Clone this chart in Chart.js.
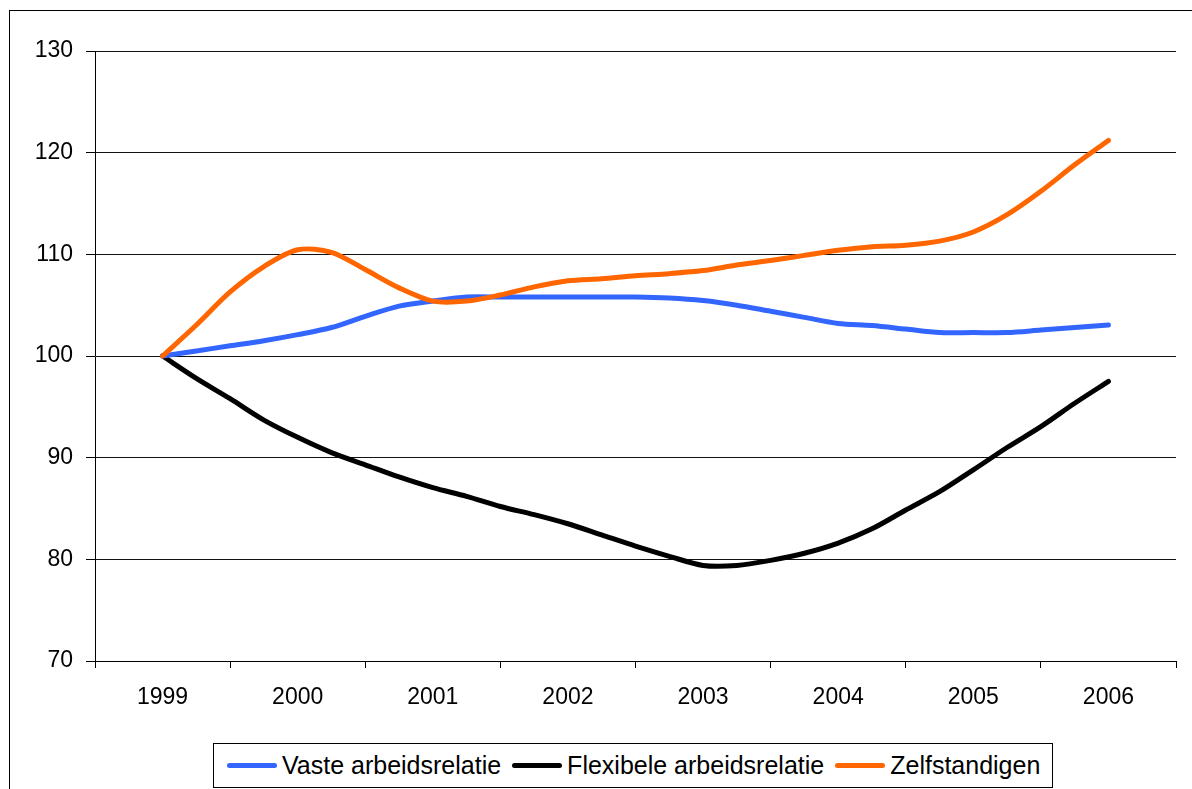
<!DOCTYPE html>
<html>
<head>
<meta charset="utf-8">
<script src="https://cdn.jsdelivr.net/npm/chart.js@4"></script>
<style>
html,body{margin:0;padding:0;background:#fff;overflow:hidden;}
#wrap{position:relative;width:1192px;height:789px;overflow:hidden;}
#frame{position:absolute;left:9px;top:10px;width:1220px;height:820px;border:1px solid #000;box-sizing:border-box;}
canvas{position:absolute;left:0;top:0;}
#legend{position:absolute;left:213px;top:743px;width:840px;height:45px;border:1px solid #000;box-sizing:border-box;display:flex;align-items:center;padding-left:13px;font-family:"Liberation Sans",Arial,sans-serif;font-size:25px;color:#000;background:#fff;}
.item{display:flex;align-items:center;margin-right:11px;white-space:nowrap;}
.sw{width:50px;height:5px;border-radius:3px;margin-right:5px;}
</style>
</head>
<body>
<div id="wrap">
  <div id="frame"></div>
  <canvas id="c" width="1192" height="789"></canvas>
  <div id="legend"></div>
</div>
<script>
// Quarterly x positions (fractional years)
const quarters = [1999, 1999.25, 1999.5, 1999.75,
                  2000, 2000.25, 2000.5, 2000.75,
                  2001, 2001.25, 2001.5, 2001.75,
                  2002, 2002.25, 2002.5, 2002.75,
                  2003, 2003.25, 2003.5, 2003.75,
                  2004, 2004.25, 2004.5, 2004.75,
                  2005, 2005.25, 2005.5, 2005.75,
                  2006];
const yearLabels = ['1999','2000','2001','2002','2003','2004','2005','2006'];
const yTickValues = [70, 80, 90, 100, 110, 120, 130];

const vaste = [100, 100.5, 101.0, 101.5,
               102.1, 102.8, 103.9, 104.9,
               105.4, 105.8, 105.8, 105.8,
               105.8, 105.8, 105.8, 105.7,
               105.45, 105.0, 104.4, 103.8,
               103.2, 103.0, 102.65, 102.3,
               102.3, 102.3, 102.55, 102.8,
               103.05];
const flexibel = [100, 97.8, 95.8, 93.7,
                  92.0, 90.5, 89.3, 88.1,
                  87.05, 86.2, 85.2, 84.4,
                  83.5, 82.4, 81.3, 80.3,
                  79.4, 79.4, 79.9, 80.6,
                  81.6, 83.0, 84.85, 86.65,
                  88.8, 91.0, 93.05, 95.35,
                  97.5];
const zelf = [100, 103.05, 106.3, 108.8,
              110.45, 110.2, 108.5, 106.7,
              105.4, 105.4, 106.0, 106.8,
              107.4, 107.6, 107.9, 108.1,
              108.4, 108.95, 109.4, 109.9,
              110.4, 110.75, 110.9, 111.3,
              112.2, 113.9, 116.2, 118.8,
              121.2];

const seriesNames = ['Vaste arbeidsrelatie', 'Flexibele arbeidsrelatie', 'Zelfstandigen'];
const seriesColors = ['#3366FF', '#000000', '#FF6600'];
const seriesValues = [vaste, flexibel, zelf];
const drawOrder = [1, 2, 0];

const FONT = '"Liberation Sans", Arial, sans-serif';
const pts = arr => arr.map((v, i) => ({x: quarters[i], y: v}));

const datasets = seriesValues.map((vals, i) => ({
  label: seriesNames[i],
  data: pts(vals),
  borderColor: seriesColors[i],
  backgroundColor: seriesColors[i],
  borderWidth: 5,
  pointRadius: 0,
  tension: 0.3,
  borderCapStyle: 'round',
  borderJoinStyle: 'round',
  fill: false,
  order: drawOrder[i]
}));

const firstYear = Number(yearLabels[0]);

new Chart(document.getElementById('c'), {
  type: 'line',
  data: { datasets },
  options: {
    responsive: false,
    animation: false,
    layout: { padding: { left: 0, top: 51, right: 13, bottom: 68 } },
    plugins: { legend: { display: false }, tooltip: { enabled: false } },
    scales: {
      x: {
        type: 'linear',
        min: firstYear - 0.5,
        max: firstYear + yearLabels.length - 0.5,
        afterBuildTicks: s => {
          const t = [];
          for (let i = 0; i <= yearLabels.length; i++) {
            t.push({ value: firstYear - 0.5 + i });
            if (i < yearLabels.length) t.push({ value: Number(yearLabels[i]) });
          }
          s.ticks = t;
        },
        afterFit: s => { s.height = 60; },
        grid: {
          drawOnChartArea: false,
          drawTicks: true,
          tickLength: 7,
          lineWidth: 1,
          tickColor: ctx => (ctx.tick && Number.isInteger(ctx.tick.value)) ? 'rgba(0,0,0,0)' : '#000'
        },
        border: { display: true, color: '#000', width: 1 },
        ticks: {
          autoSkip: false,
          maxRotation: 0,
          padding: 16,
          color: '#000',
          font: { family: FONT, size: 23 },
          callback: v => { const i = yearLabels.indexOf(String(v)); return i >= 0 ? yearLabels[i] : ''; }
        }
      },
      y: {
        min: yTickValues[0],
        max: yTickValues[yTickValues.length - 1],
        afterBuildTicks: s => { s.ticks = yTickValues.map(v => ({ value: v })); },
        afterFit: s => { s.width = 95; },
        grid: { color: '#111', lineWidth: 1, tickLength: 9, tickColor: '#000' },
        border: { display: true, color: '#000', width: 1 },
        ticks: {
          padding: 13,
          color: '#000',
          font: { family: FONT, size: 23 },
          callback: v => String(v)
        }
      }
    }
  }
});

// HTML legend
const leg = document.getElementById('legend');
seriesNames.forEach((n, i) => {
  const it = document.createElement('div');
  it.className = 'item';
  const sw = document.createElement('span');
  sw.className = 'sw';
  sw.style.background = seriesColors[i];
  const tx = document.createElement('span');
  tx.textContent = n;
  it.appendChild(sw);
  it.appendChild(tx);
  leg.appendChild(it);
});
</script>
</body>
</html>
